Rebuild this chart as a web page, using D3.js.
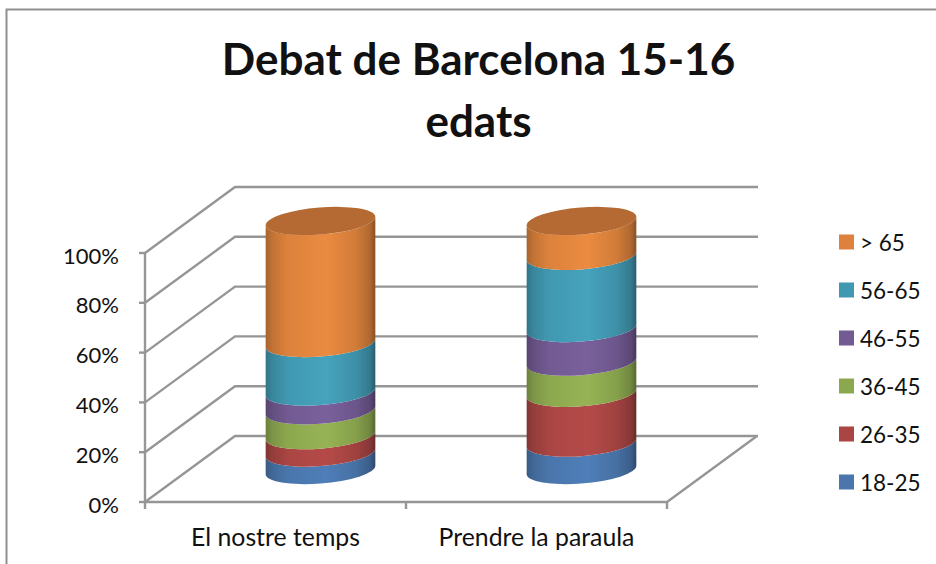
<!DOCTYPE html>
<html><head><meta charset="utf-8">
<script src="https://cdn.jsdelivr.net/npm/d3@7"></script>
<style>html,body{margin:0;padding:0;background:#fff}svg{display:block}text{font-family:Lato,"Open Sans",sans-serif;fill:#111}</style>
</head><body><svg id="c" width="936" height="564"></svg>
<script>
const titleLines = ["Debat de Barcelona 15-16", "edats"];
const categories = ["El nostre temps", "Prendre la paraula"];
const seriesNames = ["18-25", "26-35", "36-45", "46-55", "56-65", "> 65"];
const v1825 = [7, 11];
const v2635 = [7, 20];
const v3645 = [10, 12.5];
const v4655 = [7.5, 13.5];
const v5665 = [19.5, 29];
const v65 = [49, 14];
const seriesValues = [v1825, v2635, v3645, v4655, v5665, v65];
const seriesColors = ["#4a76ac", "#a94543", "#8ca84f", "#725a92", "#4198b1", "#dc823c"];
const tickValues = [0, 20, 40, 60, 80, 100];

const svg = d3.select("#c");
const L = 145, R = 667, Y0 = 502, Y1 = 253, DX = 90, DY = -66;
const y = d3.scaleLinear().domain([0, 100]).range([Y0, Y1]);
const x = d3.scaleBand().domain(categories).range([L, R]);
const GRID = "#969696";

// frame
svg.append("path").attr("d", "M6.5,564V9.5H936").attr("fill", "none").attr("stroke", "#8f8f8f").attr("stroke-width", 2);

// title
svg.selectAll("text.title").data(titleLines).join("text").attr("class", "title")
  .attr("x", 478.5).attr("y", (d, i) => 75 + i * 62).attr("text-anchor", "middle")
  .attr("font-size", 44).attr("font-weight", 700).text(d => d);

// walls & gridlines
const g = svg.append("g").attr("fill", "none").attr("stroke", GRID).attr("stroke-width", 2.4);
tickValues.forEach(t => {
  g.append("path").attr("d", `M${L},${y(t)}L${L + DX},${y(t) + DY}H${R + DX + 1}`);
  g.append("line").attr("x1", L - 6).attr("x2", L).attr("y1", y(t)).attr("y2", y(t));
});
g.append("path").attr("d", `M${L},${y(0)}V${y(100)}`);
g.append("path").attr("d", `M${L},${Y0}H${R}L${R + DX},${Y0 + DY}`);
const xt = [L, ...categories.map(c => x(c) + x.bandwidth())];
xt.forEach(p => g.append("line").attr("x1", p).attr("x2", p).attr("y1", Y0).attr("y2", Y0 + 7));

// tick labels
svg.selectAll("text.yt").data(tickValues).join("text").attr("class", "yt")
  .attr("x", 119).attr("y", d => y(d) + 10.5).attr("text-anchor", "end").attr("font-size", 22).text(d => d + "%");
svg.selectAll("text.xt").data(categories).join("text").attr("class", "xt")
  .attr("x", d => x(d) + x.bandwidth() / 2).attr("y", 546).attr("text-anchor", "middle").attr("font-size", 24.8).text(d => d);

// cylinders
const defs = svg.append("defs");
const blur = defs.append("filter").attr("id", "soft").attr("x", "-5%").attr("y", "-5%").attr("width", "110%").attr("height", "110%");
blur.append("feGaussianBlur").attr("stdDeviation", 0.6);
seriesColors.forEach((col, i) => {
  const c = d3.color(col);
  const gr = defs.append("linearGradient").attr("id", "g" + i);
  [[0, 0.76], [0.06, 0.88], [0.2, 1.0], [0.55, 1.07], [0.82, 0.95], [0.95, 0.8], [1, 0.62]].forEach(([o, k]) => {
    gr.append("stop").attr("offset", o).attr("stop-color", d3.rgb(c.r * k, c.g * k, c.b * k).formatHex());
  });
});
const rx = 55, ry = 13.5, rot = 4.6 * Math.PI / 180;
const hw = Math.sqrt(rx * rx * Math.cos(rot) ** 2 + ry * ry * Math.sin(rot) ** 2);
const off = (rx * rx - ry * ry) * Math.sin(rot) * Math.cos(rot) / hw;
const cyO = -32;
const cxO = 45.5;
const bar = (cx, a, b) => {
  const ya = y(a) + cyO, yb = y(b) + cyO;
  const deg = -rot * 180 / Math.PI;
  return `M${cx - hw},${ya + off}A${rx},${ry} ${deg} 0 0 ${cx + hw},${ya - off}` +
    `L${cx + hw},${yb - off}A${rx},${ry} ${deg} 0 1 ${cx - hw},${yb + off}Z`;
};
const plot = svg.append("g").attr("filter", "url(#soft)");
categories.forEach((cat, ci) => {
  const cx = x(cat) + x.bandwidth() / 2 + cxO - 0.5;
  let acc = 0;
  seriesValues.forEach((vals, si) => {
    const a = acc, b = acc + vals[ci];
    plot.append("path").attr("d", bar(cx, a, b)).attr("fill", `url(#g${si})`);
    acc = b;
  });
  const topCy = y(acc) + cyO;
  const top = d3.color(seriesColors[seriesColors.length - 1]);
  plot.append("ellipse").attr("cx", cx).attr("cy", topCy).attr("rx", rx).attr("ry", ry)
    .attr("transform", `rotate(${-rot * 180 / Math.PI},${cx},${topCy})`)
    .attr("fill", d3.rgb(top.r * 0.82, top.g * 0.82, top.b * 0.82).formatHex());
});

// legend
const lg = svg.selectAll("g.lg").data(seriesNames).join("g").attr("class", "lg")
  .attr("transform", (d, i) => `translate(839,${482 - i * 48})`);
lg.append("rect").attr("x", 0).attr("y", -7.5).attr("width", 15).attr("height", 15).attr("fill", (d, i) => seriesColors[i]);
lg.append("text").attr("x", 21).attr("y", 8.5).attr("font-size", 22.5).text(d => d);
</script></body></html>
